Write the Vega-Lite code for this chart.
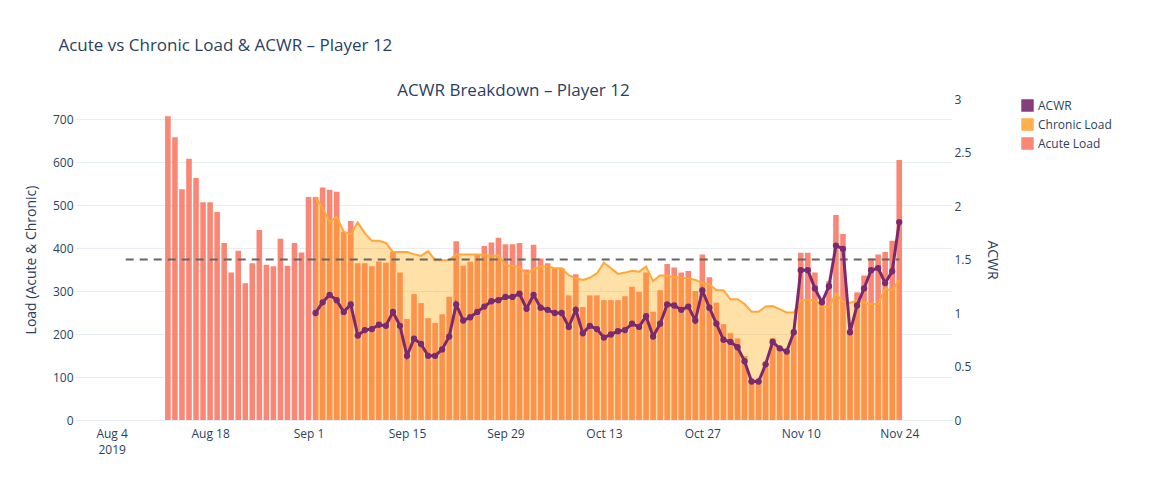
{
"$schema":"https://vega.github.io/schema/vega-lite/v6.json",
"padding":{"left":24,"top":37,"right":10,"bottom":10},
"background":"white",
"config":{"font":"Open Sans","view":{"stroke":null},"axis":{"labelColor":"#2a3f5f","titleColor":"#2a3f5f","labelFontSize":12,"titleFontSize":14,"titleFontWeight":"normal","gridColor":"#e8edf4","domain":false,"ticks":false},"legend":{"labelColor":"#2a3f5f","labelFontSize":12}},
"title":{"text":"Acute vs Chronic Load & ACWR – Player 12","anchor":"start","fontSize":17,"fontWeight":"normal","color":"#2a3f5f","offset":27,"dx":34},
"datasets":{"d":[
{"date":"2019-08-12T00:00","acute":707},{"date":"2019-08-13T00:00","acute":658},{"date":"2019-08-14T00:00","acute":537},{"date":"2019-08-15T00:00","acute":608},{"date":"2019-08-16T00:00","acute":563},{"date":"2019-08-17T00:00","acute":507},{"date":"2019-08-18T00:00","acute":507},{"date":"2019-08-19T00:00","acute":484},{"date":"2019-08-20T00:00","acute":412},{"date":"2019-08-21T00:00","acute":343},{"date":"2019-08-22T00:00","acute":394},{"date":"2019-08-23T00:00","acute":318},{"date":"2019-08-24T00:00","acute":365},{"date":"2019-08-25T00:00","acute":442},{"date":"2019-08-26T00:00","acute":361},{"date":"2019-08-27T00:00","acute":358},{"date":"2019-08-28T00:00","acute":422},{"date":"2019-08-29T00:00","acute":359},{"date":"2019-08-30T00:00","acute":412},{"date":"2019-08-31T00:00","acute":390},
{"date":"2019-09-01T00:00","acute":519},
{"date":"2019-09-02T00:00","acute":519,"chronic":519,"acwr":1.00},
{"date":"2019-09-03T00:00","acute":541,"chronic":493,"acwr":1.10},
{"date":"2019-09-04T00:00","acute":536,"chronic":461,"acwr":1.17},
{"date":"2019-09-05T00:00","acute":531,"chronic":473,"acwr":1.12},
{"date":"2019-09-06T00:00","acute":438,"chronic":438,"acwr":1.01},
{"date":"2019-09-07T00:00","acute":463,"chronic":432,"acwr":1.08},
{"date":"2019-09-08T00:00","acute":365,"chronic":460,"acwr":0.79},
{"date":"2019-09-09T00:00","acute":365,"chronic":435,"acwr":0.84},
{"date":"2019-09-10T00:00","acute":358,"chronic":417,"acwr":0.85},
{"date":"2019-09-11T00:00","acute":369,"chronic":417,"acwr":0.89},
{"date":"2019-09-12T00:00","acute":366,"chronic":412,"acwr":0.88},
{"date":"2019-09-13T00:00","acute":391,"chronic":391,"acwr":1.01},
{"date":"2019-09-14T00:00","acute":343,"chronic":391,"acwr":0.88},
{"date":"2019-09-15T00:00","acute":235,"chronic":391,"acwr":0.60},
{"date":"2019-09-16T00:00","acute":293,"chronic":386,"acwr":0.76},
{"date":"2019-09-17T00:00","acute":272,"chronic":382,"acwr":0.71},
{"date":"2019-09-18T00:00","acute":237,"chronic":393,"acwr":0.60},
{"date":"2019-09-19T00:00","acute":226,"chronic":372,"acwr":0.60},
{"date":"2019-09-20T00:00","acute":246,"chronic":372,"acwr":0.66},
{"date":"2019-09-21T00:00","acute":287,"chronic":372,"acwr":0.78},
{"date":"2019-09-22T00:00","acute":416,"chronic":385,"acwr":1.08},
{"date":"2019-09-23T00:00","acute":359,"chronic":385,"acwr":0.93},
{"date":"2019-09-24T00:00","acute":368,"chronic":385,"acwr":0.96},
{"date":"2019-09-25T00:00","acute":386,"chronic":385,"acwr":1.01},
{"date":"2019-09-26T00:00","acute":405,"chronic":384,"acwr":1.06},
{"date":"2019-09-27T00:00","acute":413,"chronic":381,"acwr":1.11},
{"date":"2019-09-28T00:00","acute":424,"chronic":383,"acwr":1.12},
{"date":"2019-09-29T00:00","acute":409,"chronic":360,"acwr":1.15},
{"date":"2019-09-30T00:00","acute":409,"chronic":359,"acwr":1.15},
{"date":"2019-10-01T00:00","acute":412,"chronic":355,"acwr":1.18},
{"date":"2019-10-02T00:00","acute":350,"chronic":340,"acwr":1.04},
{"date":"2019-10-03T00:00","acute":408,"chronic":351,"acwr":1.17},
{"date":"2019-10-04T00:00","acute":376,"chronic":357,"acwr":1.05},
{"date":"2019-10-05T00:00","acute":365,"chronic":357,"acwr":1.03},
{"date":"2019-10-06T00:00","acute":353,"chronic":353,"acwr":1.00},
{"date":"2019-10-07T00:00","acute":353,"chronic":353,"acwr":1.00},
{"date":"2019-10-08T00:00","acute":290,"chronic":337,"acwr":0.87},
{"date":"2019-10-09T00:00","acute":339,"chronic":330,"acwr":1.03},
{"date":"2019-10-10T00:00","acute":263,"chronic":326,"acwr":0.81},
{"date":"2019-10-11T00:00","acute":290,"chronic":331,"acwr":0.88},
{"date":"2019-10-12T00:00","acute":290,"chronic":341,"acwr":0.85},
{"date":"2019-10-13T00:00","acute":279,"chronic":366,"acwr":0.77},
{"date":"2019-10-14T00:00","acute":279,"chronic":353,"acwr":0.80},
{"date":"2019-10-15T00:00","acute":279,"chronic":340,"acwr":0.83},
{"date":"2019-10-16T00:00","acute":288,"chronic":343,"acwr":0.84},
{"date":"2019-10-17T00:00","acute":310,"chronic":347,"acwr":0.90},
{"date":"2019-10-18T00:00","acute":298,"chronic":345,"acwr":0.87},
{"date":"2019-10-19T00:00","acute":343,"chronic":357,"acwr":0.97},
{"date":"2019-10-20T00:00","acute":252,"chronic":323,"acwr":0.78},
{"date":"2019-10-21T00:00","acute":302,"chronic":337,"acwr":0.90},
{"date":"2019-10-22T00:00","acute":363,"chronic":335,"acwr":1.08},
{"date":"2019-10-23T00:00","acute":355,"chronic":333,"acwr":1.07},
{"date":"2019-10-24T00:00","acute":343,"chronic":331,"acwr":1.03},
{"date":"2019-10-25T00:00","acute":347,"chronic":330,"acwr":1.06},
{"date":"2019-10-26T00:00","acute":300,"chronic":326,"acwr":0.93},
{"date":"2019-10-27T00:00","acute":385,"chronic":319,"acwr":1.21},
{"date":"2019-10-28T00:00","acute":332,"chronic":316,"acwr":1.05},
{"date":"2019-10-29T00:00","acute":273,"chronic":302,"acwr":0.90},
{"date":"2019-10-30T00:00","acute":223,"chronic":302,"acwr":0.75},
{"date":"2019-10-31T00:00","acute":202,"chronic":281,"acwr":0.73},
{"date":"2019-11-01T00:00","acute":190,"chronic":281,"acwr":0.68},
{"date":"2019-11-02T00:00","acute":149,"chronic":270,"acwr":0.55},
{"date":"2019-11-03T00:00","acute":93,"chronic":252,"acwr":0.36},
{"date":"2019-11-04T00:00","acute":93,"chronic":252,"acwr":0.36},
{"date":"2019-11-05T00:00","acute":132,"chronic":264,"acwr":0.52},
{"date":"2019-11-06T00:00","acute":191,"chronic":265,"acwr":0.73},
{"date":"2019-11-07T00:00","acute":167,"chronic":258,"acwr":0.67},
{"date":"2019-11-08T00:00","acute":163,"chronic":250,"acwr":0.64},
{"date":"2019-11-09T00:00","acute":205,"chronic":250,"acwr":0.82},
{"date":"2019-11-10T00:00","acute":389,"chronic":279,"acwr":1.40},
{"date":"2019-11-11T00:00","acute":389,"chronic":280,"acwr":1.40},
{"date":"2019-11-12T00:00","acute":343,"chronic":279,"acwr":1.23},
{"date":"2019-11-13T00:00","acute":281,"chronic":265,"acwr":1.10},
{"date":"2019-11-14T00:00","acute":323,"chronic":262,"acwr":1.25},
{"date":"2019-11-15T00:00","acute":477,"chronic":295,"acwr":1.63},
{"date":"2019-11-16T00:00","acute":433,"chronic":275,"acwr":1.60},
{"date":"2019-11-17T00:00","acute":209,"chronic":273,"acwr":0.82},
{"date":"2019-11-18T00:00","acute":297,"chronic":277,"acwr":1.07},
{"date":"2019-11-19T00:00","acute":336,"chronic":273,"acwr":1.23},
{"date":"2019-11-20T00:00","acute":376,"chronic":270,"acwr":1.40},
{"date":"2019-11-21T00:00","acute":385,"chronic":270,"acwr":1.42},
{"date":"2019-11-22T00:00","acute":391,"chronic":305,"acwr":1.28},
{"date":"2019-11-23T00:00","acute":417,"chronic":302,"acwr":1.39},
{"date":"2019-11-24T00:00","acute":605,"chronic":326,"acwr":1.85}
]},
"vconcat":[{
"title":{"text":"ACWR Breakdown – Player 12","fontSize":17,"fontWeight":"normal","color":"#2a3f5f","offset":-7},
"width":877,"height":321,
"encoding":{"x":{"field":"date","type":"temporal","title":null,
  "scale":{"domain":[{"year":2019,"month":7,"date":30,"hours":12},{"year":2019,"month":11,"date":30,"hours":19}]},
  "axis":{"grid":false,"labelPadding":8,"labelLineHeight":16,"values":[{"year":2019,"month":8,"date":4},{"year":2019,"month":8,"date":18},{"year":2019,"month":9,"date":1},{"year":2019,"month":9,"date":15},{"year":2019,"month":9,"date":29},{"year":2019,"month":10,"date":13},{"year":2019,"month":10,"date":27},{"year":2019,"month":11,"date":10},{"year":2019,"month":11,"date":24}],
   "labelExpr":"month(datum.value)==7 && date(datum.value)==4 ? [timeFormat(datum.value,'%b %-d'),'2019'] : timeFormat(datum.value,'%b %-d')"}}},
"layer":[
 {"layer":[
  {"data":{"name":"d"},"mark":{"type":"bar","width":5.6,"opacity":0.9},
   "encoding":{"y":{"field":"acute","type":"quantitative","scale":{"domain":[0,747],"nice":false},"axis":{"title":"Load (Acute & Chronic)","values":[0,100,200,300,400,500,600,700],"titlePadding":14}},
    "color":{"datum":"Acute Load","type":"nominal","scale":{"domain":["ACWR","Chronic Load","Acute Load"],"range":["#7b2a6e","#ffa73a","#fa7a66"]},"legend":{"title":null,"orient":"right","offset":22,"symbolType":"square","symbolSize":120}}}},
  {"data":{"name":"d"},"transform":[{"filter":"datum.chronic != null"}],"mark":{"type":"area","line":{"color":"#ffa73a","strokeWidth":2},"fill":"#ffa500","fillOpacity":0.35},
   "encoding":{"y":{"field":"chronic","type":"quantitative"},"color":{"datum":"Chronic Load","type":"nominal"}}}
 ]},
 {"layer":[
  {"data":{"values":[{"a":"2019-08-06T00:00","b":"2019-11-24T00:00","v":1.5}]},"mark":{"type":"rule","color":"#666","strokeDash":[8,6],"strokeWidth":2},
   "encoding":{"x":{"field":"a","type":"temporal"},"x2":{"field":"b"},"y":{"field":"v","type":"quantitative","scale":{"domain":[0,3],"nice":false},"axis":{"title":"ACWR","orient":"right","format":"~g","values":[0,0.5,1,1.5,2,2.5,3],"titlePadding":14}}}},
  {"data":{"name":"d"},"transform":[{"filter":"datum.acwr != null"}],"mark":{"type":"line","strokeWidth":3,"point":{"size":40,"filled":true,"color":"#7b2a6e"},"color":"#7b2a6e"},
   "encoding":{"y":{"field":"acwr","type":"quantitative"},"color":{"datum":"ACWR","type":"nominal"}}}
 ]}
],
"resolve":{"scale":{"y":"independent"}}
}]
}
